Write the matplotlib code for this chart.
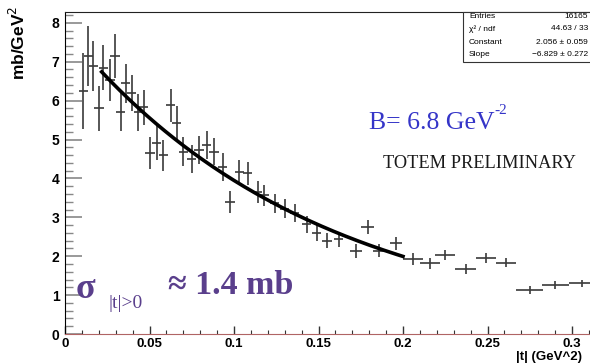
import matplotlib
matplotlib.use("Agg")
import matplotlib.pyplot as plt
import numpy as np
from matplotlib.patches import Rectangle
from matplotlib.ticker import MultipleLocator

# |t| bin centres (GeV^2), dsigma/dt (mb/GeV^2), errors
t_vals = [0.0108, 0.0138, 0.0167, 0.0201, 0.0227, 0.0266, 0.0296, 0.0330,
          0.0360, 0.0395, 0.0434, 0.0467, 0.0503, 0.0543, 0.0582, 0.0625,
          0.0660, 0.0700, 0.0750, 0.0793, 0.0838, 0.0882, 0.0933, 0.0976,
          0.1030, 0.1080, 0.1140, 0.1180, 0.1240, 0.1300, 0.1360, 0.1430,
          0.1490, 0.1550, 0.1620, 0.1720, 0.1790, 0.1860, 0.1960, 0.2060,
          0.2160, 0.2250, 0.2370, 0.2490, 0.2610, 0.2750, 0.2900, 0.3060]
dsdt = [6.25, 7.15, 6.89, 5.80, 6.85, 6.53, 7.15, 5.71,
        6.44, 6.20, 5.70, 5.83, 4.65, 4.92, 4.60, 5.88,
        5.42, 4.69, 4.49, 4.72, 4.86, 4.69, 4.30, 3.40,
        4.17, 4.13, 3.66, 3.57, 3.36, 3.22, 3.12, 2.82,
        2.59, 2.40, 2.43, 2.14, 2.76, 2.14, 2.33, 1.92,
        1.82, 2.03, 1.66, 1.95, 1.83, 1.13, 1.26, 1.30]
y_err = [0.98, 0.77, 0.65, 0.58, 0.58, 0.53, 0.56, 0.50,
         0.50, 0.47, 0.47, 0.45, 0.42, 0.45, 0.40, 0.43,
         0.43, 0.38, 0.36, 0.36, 0.35, 0.34, 0.36, 0.28,
         0.30, 0.30, 0.28, 0.27, 0.25, 0.24, 0.23, 0.22,
         0.21, 0.20, 0.19, 0.18, 0.18, 0.17, 0.17, 0.15,
         0.14, 0.14, 0.13, 0.13, 0.12, 0.10, 0.10, 0.10]
x_err = [0.0027] * 35 + [0.0036] * 4 + [0.006] * 6 + [0.008] * 3

# exponential fit from the stats box
fit_const = 2.056
fit_slope = -6.829
fit_range = (0.0217, 0.2)

stats_rows = [("Entries", "16165"),
              ("\u03c7\u00b2 / ndf", "44.63 / 33"),
              ("Constant", "2.056 \u00b1 0.059"),
              ("Slope", "\u22126.829 \u00b1 0.272")]

W, H = 590, 364
fig = plt.figure(figsize=(W / 100, H / 100), dpi=100)
ax = fig.add_axes([65 / W, 30 / H, 525 / W, 322 / H])

ax.errorbar(t_vals, dsdt, yerr=y_err, xerr=x_err, fmt="none",
            ecolor="#3a3a3a", elinewidth=1.2, capsize=0)

tt = np.linspace(fit_range[0], fit_range[1], 200)
ax.plot(tt, np.exp(fit_const + fit_slope * tt), color="black", lw=2.6)

ax.set_xlim(0, 525 / 1690)
ax.set_ylim(0, 322 / 38.9)
ax.xaxis.set_minor_locator(MultipleLocator(0.01))
ax.yaxis.set_major_locator(MultipleLocator(1))
ax.yaxis.set_minor_locator(MultipleLocator(0.2))
ax.set_xticks([0, 0.05, 0.1, 0.15, 0.2, 0.25, 0.3])
ax.set_xticklabels(["0", "0.05", "0.1", "0.15", "0.2", "0.25", "0.3"])

ax.tick_params(axis="x", which="major", direction="in", length=6, width=1,
               color="#333333", pad=3, labelsize=9.5)
ax.tick_params(axis="x", which="minor", direction="in", length=3, width=0.8,
               color="#333333")
ax.tick_params(axis="y", which="major", direction="in", length=12, width=1.2,
               color="#888888", pad=4, labelsize=10)
ax.tick_params(axis="y", which="minor", direction="in", length=6, width=1,
               color="#888888")
for lab in ax.get_xticklabels() + ax.get_yticklabels():
    lab.set_fontweight("bold")
    lab.set_family("Liberation Sans")

ax.spines["right"].set_visible(False)
ax.spines["bottom"].set_color("#b06464")
ax.spines["left"].set_color("black")
ax.spines["top"].set_color("#222222")

fig.text(18 / W, 1 - 6 / H, "mb/GeV$^2$", rotation=90, ha="center", va="top",
         fontsize=12.5, fontweight="bold", family="Liberation Sans")
fig.text(516 / W, 1 - 363 / H, "|t| (GeV^2)", ha="left", va="bottom",
         fontsize=9.5, fontweight="bold", family="Liberation Sans")

# stats box
fig.patches.append(Rectangle((463 / W, 1 - 62 / H), 130 / W, 50 / H,
                             transform=fig.transFigure, facecolor="white",
                             edgecolor="#333333", lw=0.8))
for i, (k, v) in enumerate(stats_rows):
    yy = 1 - (16 + 13 * i) / H
    fig.text(469 / W, yy, k, ha="left", va="center", fontsize=6,
             family="Liberation Sans")
    fig.text(588 / W, yy, v, ha="right", va="center", fontsize=6,
             family="Liberation Sans")

serif = "Liberation Serif"
fig.text(369 / W, 1 - 123 / H, "B= 6.8 GeV", ha="left", va="center",
         fontsize=18.5, color="#3535c8", family=serif)
fig.text(494 / W, 1 - 111 / H, "-2", ha="left", va="center",
         fontsize=11, color="#3535c8", family=serif)
fig.text(383 / W, 1 - 163 / H, "TOTEM PRELIMINARY", ha="left", va="center",
         fontsize=13.2, color="#1a1a1a", family=serif)

purple = "#5a3f8c"
fig.text(76 / W, 1 - 289 / H, "\u03c3", ha="left", va="center",
         fontsize=26, color=purple, family=serif, fontweight="bold")
fig.text(108 / W, 1 - 303 / H, "|t|>0", ha="left", va="center",
         fontsize=14, color=purple, family=serif)
fig.text(168 / W, 1 - 286 / H, "\u2248 1.4 mb", ha="left", va="center",
         fontsize=24.5, color=purple, family=serif, fontweight="bold")

fig.savefig("out.png", dpi=100)
